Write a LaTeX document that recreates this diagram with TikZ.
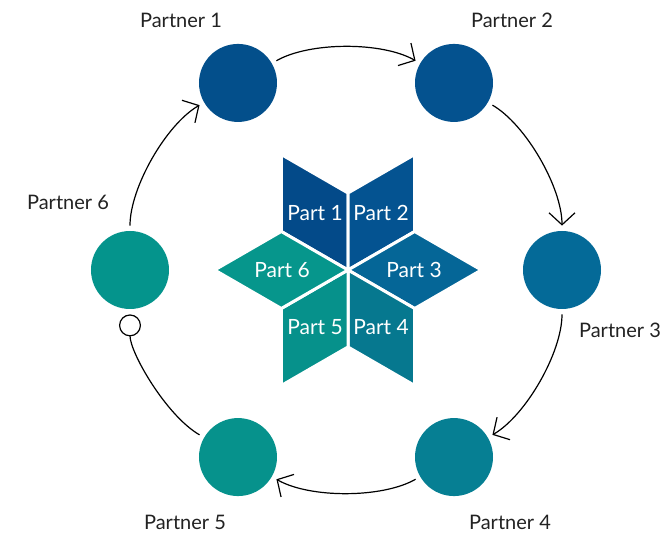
\documentclass[tikz,border=0pt]{standalone}
\usepackage{fontspec}
\setmainfont{Lato}
\usepackage{tikz}
\usetikzlibrary{arrows.meta}
\tikzset{>={Straight Barb[length=6pt,width=13pt]}}
\definecolor{pone}{HTML}{034F8B}
\definecolor{ptwo}{HTML}{04528F}
\definecolor{pthree}{HTML}{046A98}
\definecolor{pfour}{HTML}{067F93}
\definecolor{pfive}{HTML}{06928C}
\definecolor{psix}{HTML}{04948C}
\definecolor{sone}{HTML}{034A89}
\definecolor{stwo}{HTML}{045391}
\definecolor{sthree}{HTML}{056697}
\definecolor{sfour}{HTML}{06788F}
\definecolor{sfive}{HTML}{06918B}
\definecolor{ssix}{HTML}{06968C}
\definecolor{labelgrey}{HTML}{222222}

\begin{document}
\begin{tikzpicture}[x=0.5pt,y=0.5pt,
	partner/.style={circle,minimum size=39pt,inner sep=0pt},
	piece/.style={draw=white,line width=1.5pt,line join=round},
	plabel/.style={text=labelgrey,font=\fontsize{10}{12}\selectfont},
	partlabel/.style={text=white,font=\fontsize{10.5}{12}\selectfont},
	flow/.style={->,line width=0.6pt,shorten <=2.5pt,shorten >=2.5pt}]
	\useasboundingbox (-346,-265) rectangle (318,270);

	% partners round the ring
	\foreach \i/\a/\c in {1/120/pone,2/60/ptwo,3/0/pthree,4/-60/pfour,5/-120/pfive,6/180/psix}
		\node[partner,fill=\c] (p\i) at (\a:216) {};

	\node[plabel] (l1) at (-165,250) {Partner 1};
	\node[plabel] (l2) at (166,250) {Partner 2};
	\node[plabel] (l3) at (274,-60) {Partner 3};
	\node[plabel] (l4) at (164,-252) {Partner 4};
	\node[plabel] (l5) at (-161,-252) {Partner 5};
	\node[plabel] (l6) at (-278,68) {Partner 6};

	% star of parts
	\coordinate (sc) at (2,0);
	\foreach \n/\a/\c in {1/90/sone,2/30/stwo,3/-30/sthree,4/-90/sfour,5/-150/sfive,6/150/ssix}{
		\filldraw[piece,fill=\c] (sc) -- ++(\a:77) -- ++(\a+60:77) -- ++(\a+180:77) -- cycle;
		\path (sc) ++(\a+30:66) node[partlabel] (part\n) {Part \n};
	}

	% flow between partners
	\draw[flow] (p1) to[bend left=30,looseness=0.75] (p2);
	\draw[flow] (p2) to[bend left=30,looseness=0.75] (p3);
	\draw[flow] (p3) to[bend left=30,looseness=0.75] (p4);
	\draw[flow] (p4) to[bend left=30,looseness=0.75] (p5);
	\draw[flow,-{Circle[open,length=11pt]}] (p5) to[bend left=30,looseness=0.75] (p6);
	\draw[flow] (p6) to[bend left=30,looseness=0.75] (p1);
\end{tikzpicture}
\end{document}
